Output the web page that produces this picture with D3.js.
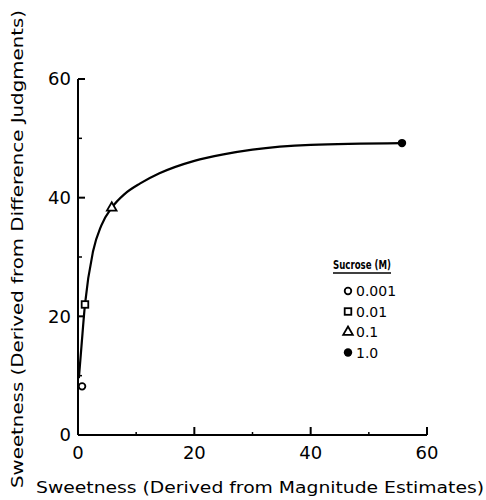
<!DOCTYPE html>
<html>
<head>
<meta charset="utf-8">
<script src="https://cdn.jsdelivr.net/npm/d3@7"></script>
<style>
  body { margin: 0; background: #fff; }
  svg text { font-family: "DejaVu Sans", sans-serif; fill: #000; }
</style>
</head>
<body>
<svg id="chart"></svg>
<script>
var w = 486;
var h = 500;

// data
var pointLabels = ["0.001", "0.01", "0.1", "1.0"];
var pointShapes = ["circle", "square", "triangle", "dot"];
var pointX = [0.7, 1.2, 5.8, 55.7];
var pointY = [8.2, 22, 38.3, 49.2];

var curveX = [0.15, 0.6, 1.2, 2.6, 4, 5.8, 8, 10.7, 14, 20, 25, 30, 40, 55.7];
var curveY = [9.6, 15, 22, 31, 35.3, 38.3, 40.6, 42.4, 44.1, 46.2, 47.3, 48.1, 48.9, 49.2];

var xTicks = [0, 20, 40, 60];
var yTicks = [0, 20, 40, 60];
var minorTicks = [10, 30, 50];

var x = d3.scaleLinear().domain([0, 60]).range([78, 427]);
var y = d3.scaleLinear().domain([0, 60]).range([435, 79]);

var svg = d3.select("#chart").attr("width", w).attr("height", h);

// axes, ticks pointing inside
var gX = svg.append("g").attr("transform", "translate(0,435)");
gX.append("line").attr("x1", x(0)).attr("x2", x(60)).attr("stroke", "#000").attr("stroke-width", 2);
gX.selectAll(".maj").data(xTicks.slice(1)).enter().append("line")
  .attr("x1", function(d) { return x(d); }).attr("x2", function(d) { return x(d); })
  .attr("y1", 0).attr("y2", -8).attr("stroke", "#000").attr("stroke-width", 2);
gX.selectAll(".min").data(minorTicks).enter().append("line")
  .attr("x1", function(d) { return x(d); }).attr("x2", function(d) { return x(d); })
  .attr("y1", 0).attr("y2", -3).attr("stroke", "#000").attr("stroke-width", 1.5);
gX.selectAll("text").data(xTicks).enter().append("text")
  .attr("x", function(d) { return x(d); }).attr("y", 24)
  .attr("text-anchor", "middle").attr("font-size", 18)
  .text(function(d) { return d; });

var gY = svg.append("g").attr("transform", "translate(78,0)");
gY.append("line").attr("y1", y(0)).attr("y2", y(60)).attr("stroke", "#000").attr("stroke-width", 2);
gY.selectAll(".maj").data(yTicks.slice(1)).enter().append("line")
  .attr("y1", function(d) { return y(d); }).attr("y2", function(d) { return y(d); })
  .attr("x1", 0).attr("x2", 7).attr("stroke", "#000").attr("stroke-width", 2);
gY.selectAll(".min").data(minorTicks).enter().append("line")
  .attr("y1", function(d) { return y(d); }).attr("y2", function(d) { return y(d); })
  .attr("x1", 0).attr("x2", 4).attr("stroke", "#000").attr("stroke-width", 1.5);
gY.selectAll("text").data(yTicks).enter().append("text")
  .attr("x", -7).attr("y", function(d) { return y(d); })
  .attr("dy", "0.36em").attr("text-anchor", "end").attr("font-size", 18)
  .text(function(d) { return d; });

// axis titles
svg.append("text")
  .attr("x", 260).attr("y", 493)
  .attr("text-anchor", "middle").attr("font-size", 16)
  .attr("textLength", 448).attr("lengthAdjust", "spacingAndGlyphs")
  .text("Sweetness (Derived from Magnitude Estimates)");

svg.append("text")
  .attr("transform", "translate(23,249) rotate(-90)")
  .attr("text-anchor", "middle").attr("font-size", 16)
  .attr("textLength", 478).attr("lengthAdjust", "spacingAndGlyphs")
  .text("Sweetness (Derived from Difference Judgments)");

// curve
var line = d3.line()
  .x(function(d) { return x(d[0]); })
  .y(function(d) { return y(d[1]); })
  .curve(d3.curveMonotoneX);
var curveData = curveX.map(function(e, i) { return [e, curveY[i]]; });
svg.append("path").attr("d", line(curveData))
  .attr("fill", "none").attr("stroke", "#000").attr("stroke-width", 2.2);

// markers
function drawMarker(g, shape, cx, cy) {
  if (shape == "circle") {
    g.append("circle").attr("cx", cx).attr("cy", cy).attr("r", 3.3)
      .attr("fill", "#fff").attr("stroke", "#000").attr("stroke-width", 1.8);
  } else if (shape == "square") {
    g.append("rect").attr("x", cx - 3.3).attr("y", cy - 3.3).attr("width", 6.6).attr("height", 6.6)
      .attr("fill", "#fff").attr("stroke", "#000").attr("stroke-width", 1.8);
  } else if (shape == "triangle") {
    g.append("path").attr("d", d3.symbol().type(d3.symbolTriangle).size(40)())
      .attr("transform", "translate(" + cx + "," + cy + ")")
      .attr("fill", "#fff").attr("stroke", "#000").attr("stroke-width", 1.8);
  } else {
    g.append("circle").attr("cx", cx).attr("cy", cy).attr("r", 4.2).attr("fill", "#000");
  }
}

var gPts = svg.append("g");
pointX.forEach(function(e, i) {
  drawMarker(gPts, pointShapes[i], x(e), y(pointY[i]));
});

// legend
var lg = svg.append("g").attr("transform", "translate(333,0)");
lg.append("text").attr("x", 0).attr("y", 269)
  .attr("font-size", 12).attr("font-weight", "bold")
  .attr("textLength", 58).attr("lengthAdjust", "spacingAndGlyphs")
  .text("Sucrose (M)");
lg.append("line").attr("x1", 0).attr("x2", 58).attr("y1", 273).attr("y2", 273)
  .attr("stroke", "#000").attr("stroke-width", 1.5);
pointLabels.forEach(function(lab, i) {
  var ry = 291 + i * 20.5;
  drawMarker(lg, pointShapes[i], 15, ry);
  lg.append("text").attr("x", 23).attr("y", ry).attr("dy", "0.36em")
    .attr("font-size", 14).text(lab);
});
</script>
</body>
</html>
